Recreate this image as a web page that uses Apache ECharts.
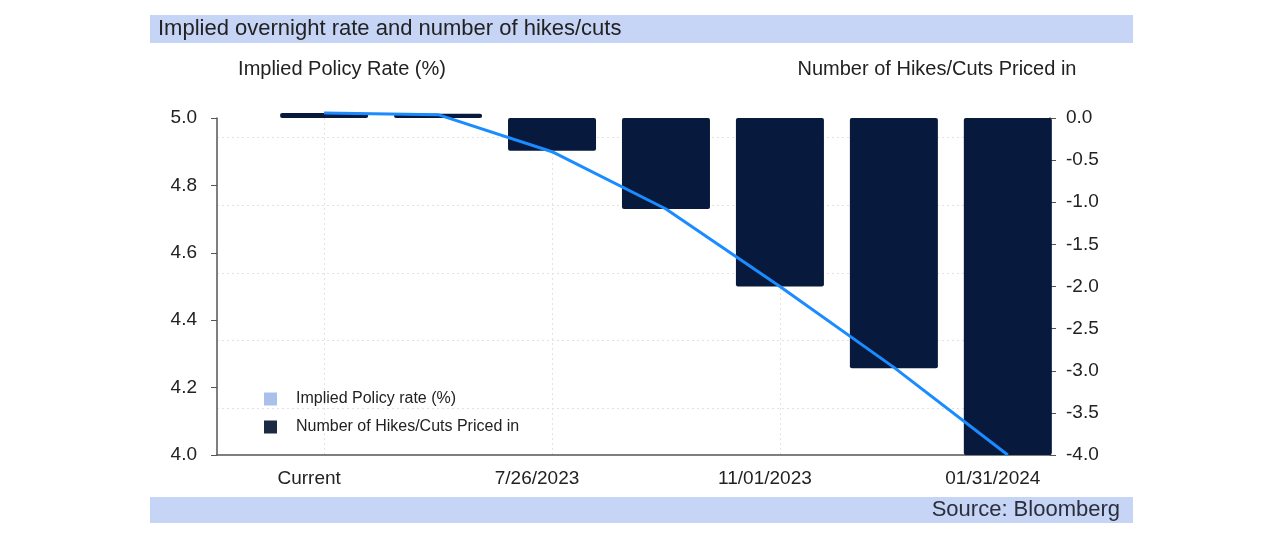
<!DOCTYPE html>
<html>
<head>
<meta charset="utf-8">
<script src="https://cdn.jsdelivr.net/npm/echarts@6/dist/echarts.min.js"></script>
<style>
html, body { margin: 0; padding: 0; background: #fff; }
#main { width: 1288px; height: 542px; }
</style>
</head>
<body>
<div id="main"></div>
<script>
// categories along the bottom, only every other one is labelled
var categories = ['Current', '', '7/26/2023', '', '11/01/2023', '', '01/31/2024'];
var labelIndex = [0, 2, 4, 6];
// implied policy rate (%), left axis
var policyRate = [5.015, 5.01, 4.90, 4.73, 4.50, 4.26, 4.00];
// number of hikes/cuts priced in, right axis
var hikesCuts = [0.06, 0.05, -0.39, -1.08, -2.0, -2.97, -4.0];

var fontFamily = 'Liberation Sans';
var textColor = '#222';

var chart = echarts.init(document.getElementById('main'));

function pairs(arr) {
    var out = [];
    for (var i = 0; i < arr.length; i++) {
        out.push([i, arr[i]]);
    }
    return out;
}

var option = {
    backgroundColor: '#fff',
    animation: false,
    textStyle: { fontFamily: fontFamily },
    grid: { left: 217, right: 238, top: 118, bottom: 87 },
    legend: {
        orient: 'vertical',
        left: 259,
        top: 386,
        itemWidth: 13,
        itemHeight: 13,
        itemGap: 12,
        textStyle: { fontSize: 16, color: textColor, fontFamily: fontFamily, padding: [0, 0, 0, 14] },
        data: [
            { name: 'Implied Policy rate (%)', icon: 'rect', itemStyle: { color: '#a9c1ea' } },
            { name: 'Number of Hikes/Cuts Priced in', icon: 'rect', itemStyle: { color: '#1c2a44' } }
        ]
    },
    xAxis: {
        type: 'value',
        min: -0.94,
        max: 6.37,
        axisLine: { onZero: false, lineStyle: { color: '#555', width: 1.5 } },
        axisTick: { show: false, customValues: labelIndex },
        axisLabel: {
            customValues: labelIndex,
            formatter: function (v) { return categories[Math.round(v)] || ''; },
            color: textColor,
            fontSize: 19,
            margin: 14,
            padding: [0, 30, 0, 0]
        },
        splitLine: { show: true, lineStyle: { color: '#e2e2e2', type: [2, 3] } }
    },
    yAxis: [
        {
            type: 'value',
            position: 'left',
            min: 4,
            max: 5,
            interval: 0.2,
            axisLine: { show: true, onZero: false, lineStyle: { color: '#555', width: 1.5 } },
            axisTick: { show: true, length: 6, lineStyle: { color: '#555' } },
            axisLabel: {
                formatter: function (v) { return v.toFixed(1); },
                color: textColor,
                fontSize: 19,
                margin: 20
            },
            splitLine: { show: false }
        },
        {
            type: 'value',
            position: 'right',
            min: -4,
            max: 0,
            interval: 0.5,
            axisLine: { show: true, onZero: false, lineStyle: { color: '#555', width: 1.5 } },
            axisTick: { show: true, length: 6, lineStyle: { color: '#555' } },
            axisLabel: {
                formatter: function (v) { return v.toFixed(1); },
                color: textColor,
                fontSize: 19,
                margin: 16
            },
            splitLine: { show: false }
        },
        {
            // only here for the faint horizontal gridlines
            type: 'value',
            position: 'left',
            min: -0.695,
            max: 4.29,
            splitNumber: 5,
            axisLine: { show: false, onZero: false },
            axisTick: { show: false },
            axisLabel: { show: false },
            splitLine: { show: true, showMinLine: false, showMaxLine: false, lineStyle: { color: '#e2e2e2', type: [2, 3] } }
        }
    ],
    series: [
        {
            name: 'Number of Hikes/Cuts Priced in',
            type: 'bar',
            yAxisIndex: 1,
            barWidth: 88,
            clip: false,
            itemStyle: { color: '#071a3d', borderRadius: 2 },
            data: pairs(hikesCuts),
            z: 2
        },
        {
            name: 'Implied Policy rate (%)',
            type: 'line',
            yAxisIndex: 0,
            showSymbol: false,
            symbol: 'none',
            clip: false,
            lineStyle: { color: '#1a8cff', width: 3 },
            itemStyle: { color: '#1a8cff' },
            data: pairs(policyRate),
            z: 3
        }
    ],
    graphic: [
        { type: 'rect', shape: { x: 150, y: 15, width: 983, height: 28 }, style: { fill: '#c6d5f5' }, z: 0 },
        { type: 'text', x: 158, y: 29, style: { text: 'Implied overnight rate and number of hikes/cuts', fill: textColor, font: '22px "Liberation Sans"', textVerticalAlign: 'middle' } },
        { type: 'text', x: 342, y: 69, style: { text: 'Implied Policy Rate (%)', fill: textColor, font: '20px "Liberation Sans"', textAlign: 'center', textVerticalAlign: 'middle' } },
        { type: 'text', x: 937, y: 69, style: { text: 'Number of Hikes/Cuts Priced in', fill: textColor, font: '20px "Liberation Sans"', textAlign: 'center', textVerticalAlign: 'middle' } },
        { type: 'rect', shape: { x: 150, y: 497, width: 983, height: 26 }, style: { fill: '#c6d5f5' }, z: 0 },
        { type: 'text', x: 1120, y: 510, style: { text: 'Source: Bloomberg', fill: '#2a2f3a', font: '22px "Liberation Sans"', textAlign: 'right', textVerticalAlign: 'middle' } }
    ]
};

chart.setOption(option);
</script>
</body>
</html>
